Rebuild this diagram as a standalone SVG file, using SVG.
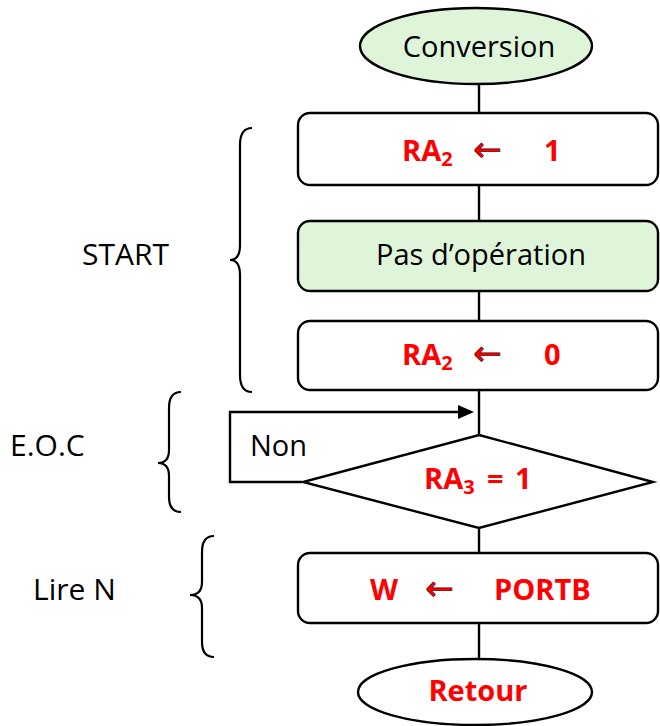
<svg xmlns="http://www.w3.org/2000/svg" width="660" height="726" viewBox="0 0 660 726">
<style>
.sh{stroke:#000;stroke-width:2.4;fill:#fff}
.gr{fill:#dff5d9}
.ln{stroke:#000;stroke-width:2.4;fill:none}
.br{stroke:#000;stroke-width:2.2;fill:none}
.t{font-family:"Open Sans","DejaVu Sans",sans-serif;font-size:29px;fill:#000}
.lb{font-size:30px}
.r{font-family:"Open Sans","DejaVu Sans",sans-serif;font-size:29px;font-weight:bold;fill:#ff0000}
.s{font-size:20px}
.ar{font-family:"DejaVu Sans",sans-serif;font-size:34px;fill:#ff0000;stroke:#400;stroke-width:0.7}
</style>
<rect width="660" height="726" fill="#fff"/>
<g id="connectors">
<line class="ln" x1="479" y1="84" x2="479" y2="113"/>
<line class="ln" x1="479" y1="185" x2="479" y2="221"/>
<line class="ln" x1="479" y1="291" x2="479" y2="321"/>
<line class="ln" x1="479" y1="390" x2="479" y2="435"/>
<line class="ln" x1="479" y1="528" x2="479" y2="553"/>
<line class="ln" x1="479" y1="623" x2="479" y2="659"/>
<path class="ln" d="M302,482 H230 V412 H462"/>
<path d="M474,412 L458,405 L458,419 z" fill="#000"/>
<text class="t" x="250" y="456">Non</text>
</g>
<g id="conversion">
<ellipse class="sh gr" cx="476" cy="46" rx="116" ry="38"/>
<text class="t" x="479" y="57" text-anchor="middle">Conversion</text>
</g>
<g id="ra2set">
<rect class="sh" x="298" y="113" width="360" height="72" rx="12"/>
<text class="r" x="402" y="161">RA<tspan class="s" dy="5">2</tspan></text>
<text class="ar" x="473" y="161">←</text>
<text class="r" x="544" y="161">1</text>
</g>
<g id="nop">
<rect class="sh gr" x="298" y="221" width="360" height="70" rx="12"/>
<text class="t" x="481" y="265" text-anchor="middle">Pas d’opération</text>
</g>
<g id="ra2clr">
<rect class="sh" x="298" y="321" width="360" height="69" rx="12"/>
<text class="r" x="402" y="365">RA<tspan class="s" dy="5">2</tspan></text>
<text class="ar" x="473" y="365">←</text>
<text class="r" x="544" y="365">0</text>
</g>
<g id="test">
<polygon class="sh" points="479,435 653,482 479,528 303,482"/>
<text class="r" x="424" y="489">RA<tspan class="s" dy="5">3</tspan><tspan x="487" dy="-5">=</tspan><tspan x="515">1</tspan></text>
</g>
<g id="read">
<rect class="sh" x="298" y="553" width="360" height="70" rx="12"/>
<text class="r" x="370" y="600">W</text>
<text class="ar" x="425" y="600">←</text>
<text class="r" x="494" y="600">PORTB</text>
</g>
<g id="retour">
<ellipse class="sh" cx="475" cy="692" rx="117" ry="33"/>
<text class="r" x="478" y="701" text-anchor="middle">Retour</text>
</g>
<g id="labels">
<path class="br" d="M252,128 Q240,128 240,145 V245 Q240,260 230,260 Q240,260 240,275 V375 Q240,392 252,392"/>
<text class="t lb" x="82" y="265">START</text>
<path class="br" d="M181,392 Q169,392 169,408 V450 Q169,463 158,463 Q169,463 169,476 V497 Q169,512 181,512"/>
<text class="t lb" x="10" y="456">E.O.C</text>
<path class="br" d="M214,536 Q202,536 202,552 V582 Q202,595 190,595 Q202,595 202,608 V642 Q202,657 214,657"/>
<text class="t lb" x="33" y="600">Lire N</text>
</g>
</svg>
